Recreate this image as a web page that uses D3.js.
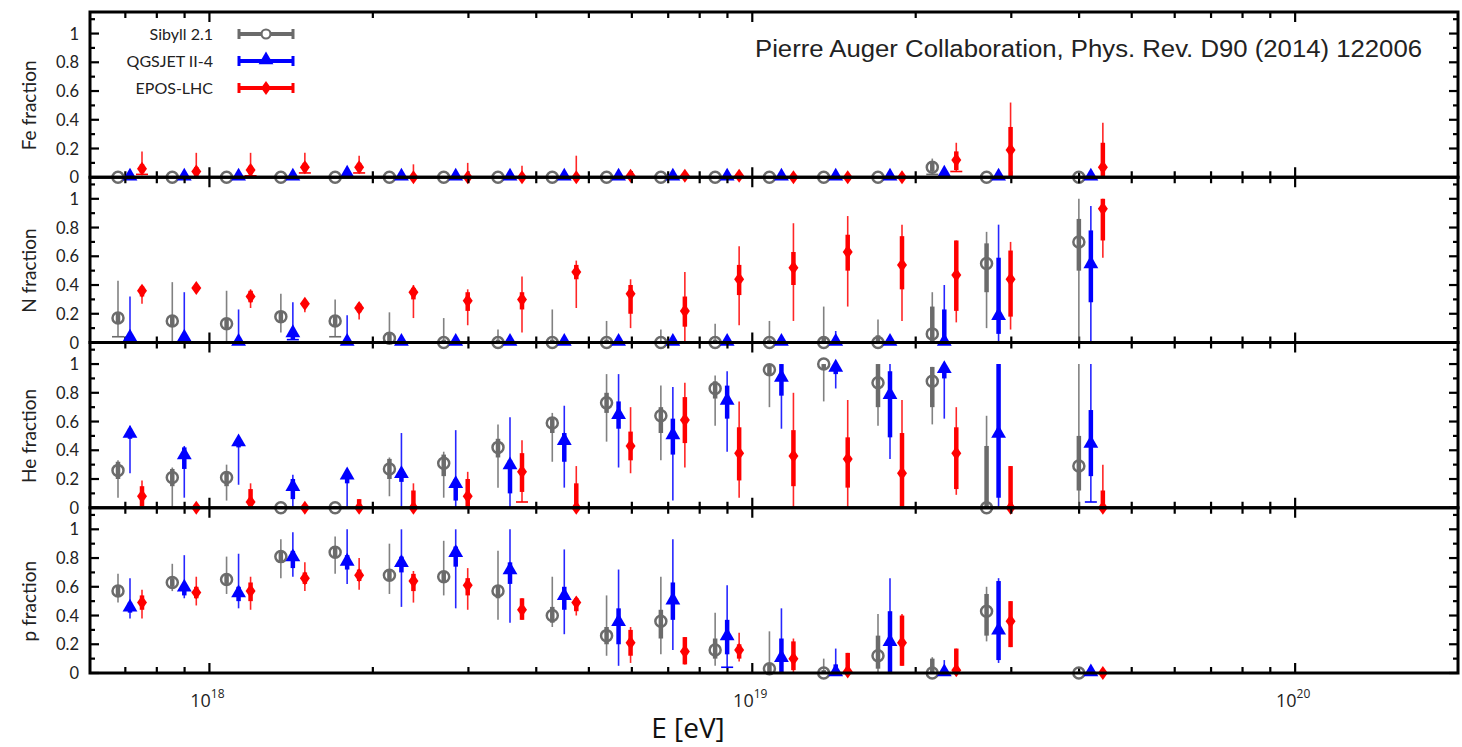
<!DOCTYPE html>
<html>
<head>
<meta charset="utf-8">
<script src="https://cdn.jsdelivr.net/npm/d3@7/dist/d3.min.js"></script>
<style>
  body { margin: 0; background: #fff; }
  svg { display: block; }
</style>
</head>
<body>
<div id="chart"></div>
<script>
// energy bins, log10(E/eV)
const logE = [17.85, 17.95, 18.05, 18.15, 18.25, 18.35, 18.45, 18.55, 18.65,
              18.75, 18.85, 18.95, 19.05, 19.15, 19.25, 19.35, 19.45, 19.62];

const elements = ["Fe", "N", "He", "p"];
const models = ["Sibyll 2.1", "QGSJET II-4", "EPOS-LHC"];
const xTickLabels = [18, 19, 20];

// each point: [value, statLo, statHi, sysLo, sysHi]
const sibyllFe = [[0,0,0,0,0],[0,0,0,0,0],[0,0,0,0,0],[0,0,0,0,0],[0,0,0,0,0],[0,0,0,0,0],
  [0,0,0,0,0],[0,0,0,0,0],[0,0,0,0,0],[0,0,0,0,0],[0,0,0,0,0],[0,0,0,0,0],[0,0,0,0,0],
  [0,0,0,0,0],[0,0,0,0,0],[0.07,0.04,0.1,0.02,0.13],[0,0,0,0,0],[0,0,0,0,0]];
const qgsjetFe = [[0,0,0,0,0],[0,0,0,0,0],[0,0,0,0,0],[0,0,0,0,0],[0.02,0,0.03,0,0.03],[0,0,0,0,0],
  [0,0,0,0,0],[0,0,0,0,0],[0,0,0,0,0],[0,0,0,0,0],[0,0,0,0,0],[0,0,0,0,0],[0,0,0,0,0],
  [0,0,0,0,0],[0,0,0,0,0],[0.02,0,0.04,0,0.05],[0,0,0,0,0],[0,0,0,0,0]];
const eposFe = [[0.06,0.03,0.09,0.02,0.18],[0.04,0.01,0.07,0,0.17],[0.05,0.02,0.08,0.01,0.17],
  [0.07,0.04,0.1,0.03,0.17],[0.07,0.04,0.1,0.03,0.15],[0,0,0.02,0,0.09],[0,0,0.02,0,0.1],
  [0,0,0.02,0,0.08],[0,0,0.02,0,0.15],[0.01,0,0.03,0,0.03],[0.01,0,0.03,0,0.03],
  [0.01,0,0.02,0,0.02],[0,0,0.01,0,0.01],[0,0,0.01,0,0.01],[0,0,0.01,0,0.01],
  [0.12,0.05,0.18,0.04,0.24],[0.19,0,0.35,0,0.52],[0.07,0,0.24,0,0.38]];

const sibyllN = [[0.17,0.13,0.21,0.04,0.43],[0.15,0.11,0.19,0,0.42],[0.13,0.09,0.17,0,0.36],
  [0.18,0.14,0.22,0.07,0.34],[0.15,0.11,0.19,0.04,0.3],[0.03,0,0.06,0,0.21],[0,0,0.02,0,0.17],
  [0,0,0.02,0,0.09],[0,0,0.02,0,0.23],[0,0,0.02,0,0.15],[0,0,0.01,0,0.09],[0,0,0.02,0,0.13],
  [0,0,0.02,0,0.15],[0,0,0.04,0,0.25],[0,0,0.05,0,0.16],[0.06,0,0.25,0,0.35],
  [0.55,0.35,0.69,0.1,0.77],[0.7,0.5,0.86,0,1]];
const qgsjetN = [[0.03,0,0.05,0,0.32],[0.03,0,0.05,0,0.35],[0,0,0.01,0,0.23],[0.06,0.02,0.09,0.02,0.28],
  [0,0,0.02,0,0.19],[0,0,0.02,0,0.03],[0,0,0.01,0,0.01],[0,0,0.01,0,0.01],[0,0,0.01,0,0.01],
  [0,0,0.01,0,0.01],[0,0,0.01,0,0.01],[0,0,0.01,0,0.01],[0,0,0.01,0,0.01],[0,0,0.03,0,0.08],
  [0,0,0.01,0,0.01],[0,0,0.23,0,0.4],[0.18,0.06,0.59,0,0.82],[0.54,0.28,0.78,0,0.95]];
const eposN = [[0.36,0.32,0.39,0.27,0.4],[0.38,0.36,0.4,0.36,0.4],[0.32,0.28,0.36,0.24,0.37],
  [0.27,0.25,0.29,0.21,0.29],[0.24,0.21,0.27,0.16,0.28],[0.35,0.3,0.38,0.17,0.4],
  [0.29,0.22,0.35,0.12,0.37],[0.3,0.23,0.35,0.07,0.46],[0.49,0.44,0.54,0.24,0.57],
  [0.34,0.2,0.4,0.1,0.44],[0.22,0.11,0.32,0,0.49],[0.44,0.33,0.54,0.12,0.67],
  [0.52,0.4,0.63,0.15,0.83],[0.63,0.5,0.75,0.25,0.88],[0.54,0.37,0.74,0.15,0.82],
  [0.47,0.22,0.71,0.14,0.71],[0.44,0.18,0.64,0.09,0.7],[0.93,0.71,1,0.59,1]];

const sibyllHe = [[0.26,0.2,0.32,0.07,0.33],[0.21,0.15,0.27,0,0.28],[0.21,0.15,0.25,0.05,0.3],
  [0,0,0.01,0,0.01],[0,0,0.01,0,0.01],[0.27,0.2,0.34,0.08,0.35],[0.31,0.22,0.37,0.07,0.39],
  [0.42,0.35,0.48,0.14,0.58],[0.59,0.52,0.62,0.32,0.66],[0.73,0.66,0.8,0.46,0.93],
  [0.64,0.52,0.7,0.33,0.85],[0.83,0.76,0.88,0.57,0.92],[0.96,0.92,1,0.7,1],[1,0.96,1,0.74,1],
  [0.87,0.7,1,0.57,1],[0.88,0.7,0.98,0.58,0.98],[0,0,0.43,0,0.64],[0.29,0.12,0.5,0,1]];
const qgsjetHe = [[0.51,0.48,0.55,0.24,0.57],[0.36,0.27,0.42,0.07,0.43],[0.45,0.42,0.48,0.16,0.48],
  [0.14,0.06,0.2,0,0.23],[0.22,0.17,0.25,0,0.27],[0.23,0.18,0.27,0,0.52],[0.16,0.05,0.2,0,0.54],
  [0.29,0.1,0.33,0,0.63],[0.46,0.32,0.52,0.14,0.71],[0.64,0.55,0.74,0.28,0.93],
  [0.5,0.37,0.62,0.05,0.84],[0.74,0.62,0.85,0.39,0.95],[0.9,0.78,1,0.55,1],[0.97,0.93,1,0.83,1],
  [0.78,0.49,0.95,0.34,1],[0.96,0.9,0.98,0.62,0.98],[0.51,0.07,1,0,1],[0.44,0.22,0.68,0.04,1]];
const eposHe = [[0.08,0.01,0.15,0,0.19],[0,0,0.01,0,0.01],[0.04,0,0.13,0,0.17],[0,0,0.01,0,0.01],
  [0,0,0.06,0,0.06],[0,0,0.12,0,0.17],[0.08,0,0.2,0,0.25],[0.25,0.11,0.38,0.04,0.47],
  [0,0,0.17,0,0.29],[0.43,0.33,0.53,0.24,0.7],[0.61,0.45,0.77,0.28,0.87],[0.38,0.19,0.56,0.07,0.74],
  [0.36,0.15,0.54,0,0.8],[0.34,0.14,0.49,0,0.75],[0.24,0,0.52,0,0.75],[0.38,0.13,0.56,0.09,0.7],
  [0,0,0.29,0,0.29],[0,0,0.12,0,0.3]];

const sibyllP = [[0.57,0.53,0.61,0.49,0.69],[0.63,0.6,0.66,0.57,0.76],[0.65,0.62,0.69,0.55,0.81],
  [0.81,0.77,0.85,0.66,0.93],[0.84,0.8,0.87,0.69,0.95],[0.68,0.64,0.72,0.55,0.9],
  [0.67,0.63,0.71,0.54,0.92],[0.57,0.52,0.61,0.37,0.85],[0.4,0.35,0.46,0.32,0.67],
  [0.26,0.2,0.32,0.12,0.54],[0.36,0.24,0.44,0.13,0.67],[0.16,0.1,0.24,0.05,0.42],
  [0.03,0,0.07,0,0.29],[0,0,0.02,0,0.1],[0.12,0.03,0.26,0,0.41],[0,0,0.1,0,0.11],
  [0.43,0.26,0.55,0.22,0.6],[0,0,0.01,0,0.01]];
const qgsjetP = [[0.45,0.42,0.49,0.38,0.66],[0.59,0.54,0.62,0.52,0.82],[0.55,0.5,0.6,0.45,0.83],
  [0.8,0.73,0.85,0.67,0.98],[0.77,0.72,0.82,0.62,1],[0.76,0.7,0.81,0.46,1],[0.83,0.74,0.88,0.45,1],
  [0.71,0.62,0.77,0.35,1],[0.53,0.44,0.6,0.27,0.86],[0.35,0.2,0.45,0.05,0.72],
  [0.5,0.37,0.63,0.16,0.93],[0.25,0.13,0.37,0.04,0.61],[0.1,0,0.24,0,0.45],[0,0,0.06,0,0.17],
  [0.21,0,0.43,0,0.66],[0,0,0.03,0,0.09],[0.29,0.09,0.64,0.07,0.66],[0,0,0.01,0,0.01]];
const eposP = [[0.49,0.44,0.54,0.38,0.58],[0.56,0.52,0.6,0.47,0.67],[0.57,0.5,0.63,0.44,0.67],
  [0.66,0.62,0.7,0.57,0.77],[0.68,0.64,0.72,0.58,0.8],[0.64,0.57,0.69,0.49,0.71],
  [0.61,0.54,0.66,0.44,0.73],[0.44,0.37,0.52,0.37,0.52],[0.49,0.43,0.52,0.4,0.53],
  [0.21,0.12,0.3,0.07,0.32],[0.15,0.06,0.25,0.06,0.25],[0.16,0.1,0.2,0.08,0.28],
  [0.1,0.02,0.22,0,0.24],[0.01,0,0.14,0,0.14],[0.21,0.05,0.4,0.05,0.41],[0.02,0,0.17,0,0.17],
  [0.36,0.18,0.5,0.18,0.5],[0,0,0.01,0,0.01]];

const panelData = {
  Fe: [sibyllFe, qgsjetFe, eposFe],
  N:  [sibyllN, qgsjetN, eposN],
  He: [sibyllHe, qgsjetHe, eposHe],
  p:  [sibyllP, qgsjetP, eposP]
};

const colors = ["#6b6b6b", "#0000ff", "#ff0000"];
const offsets = [-10, 2, 14];   // px shift so the three models don't overlap

const W = 1462, H = 747;
const plotL = 90, plotR = 1458, plotT = 12, plotB = 673;
const panelH = (plotB - plotT) / elements.length;

const svg = d3.select("#chart").append("svg")
    .attr("width", W).attr("height", H)
    .attr("viewBox", `0 0 ${W} ${H}`);

const x = d3.scaleLog()
    .domain([Math.pow(10, 17.78), Math.pow(10, 20.3)])
    .range([plotL, plotR]);

const font = "Lato, 'Open Sans', sans-serif";

// minor + major x tick positions
const xMinor = [];
for (let dec = 17; dec <= 20; dec++) {
  for (let m = 1; m <= 9; m++) {
    const v = m * Math.pow(10, dec);
    if (v >= x.domain()[0] && v <= x.domain()[1]) xMinor.push({ v, major: m === 1 });
  }
}

const symTri = d3.symbol().type(d3.symbolTriangle).size(95);
const diamond = "M0,-7L5,0L0,7L-5,0Z";

elements.forEach((el, pi) => {
  const y0 = plotT + pi * panelH, y1 = y0 + panelH;
  const y = d3.scaleLinear().domain([0, 1.15]).range([y1, y0]);
  const g = svg.append("g");

  // y ticks, both sides, inward
  const yt = d3.range(0, 12).map(i => i / 10);
  yt.forEach((v, i) => {
    const len = i % 2 === 0 ? 9 : 5;
    g.append("line").attr("x1", plotL).attr("x2", plotL + len)
      .attr("y1", y(v)).attr("y2", y(v)).attr("stroke", "#000").attr("stroke-width", 2.2);
    g.append("line").attr("x1", plotR).attr("x2", plotR - len)
      .attr("y1", y(v)).attr("y2", y(v)).attr("stroke", "#000").attr("stroke-width", 2.2);
  });
  g.selectAll(".ylab").data([0, 0.2, 0.4, 0.6, 0.8, 1]).join("text")
    .attr("x", 79).attr("y", d => y(d) + 6)
    .attr("text-anchor", "end")
    .attr("font-family", font).attr("font-size", 16.5).attr("fill", "#222")
    .text(d => d === 0 || d === 1 ? d : d.toFixed(1));

  g.append("text")
    .attr("transform", `translate(36,${y(0.5)}) rotate(-90)`)
    .attr("text-anchor", "middle")
    .attr("font-family", font).attr("font-size", 19).attr("fill", "#222")
    .text(el + " fraction");

  // x ticks at top and bottom of each panel, inward
  xMinor.forEach(t => {
    const len = t.major ? 10 : 6;
    const xx = x(t.v);
    g.append("line").attr("x1", xx).attr("x2", xx).attr("y1", y0).attr("y2", y0 + len)
      .attr("stroke", "#000").attr("stroke-width", 2.2);
    g.append("line").attr("x1", xx).attr("x2", xx).attr("y1", y1).attr("y2", y1 - len)
      .attr("stroke", "#000").attr("stroke-width", 2.2);
  });

  // data
  panelData[el].forEach((series, mi) => {
    const col = colors[mi];
    const mg = g.append("g");
    series.forEach((d, bi) => {
      const [v, tLo, tHi, sLo, sHi] = d;
      const px = x(Math.pow(10, logE[bi])) + offsets[mi];
      mg.append("line").attr("x1", px).attr("x2", px)
        .attr("y1", y(sLo)).attr("y2", y(sHi))
        .attr("stroke", col).attr("stroke-width", 1.6).attr("stroke-opacity", 0.85);
      if (sLo <= 0.04 && v - sLo > 0.02) {
        mg.append("line").attr("x1", px - 6).attr("x2", px + 6)
          .attr("y1", y(sLo)).attr("y2", y(sLo))
          .attr("stroke", col).attr("stroke-width", 1.6);
      }
      mg.append("line").attr("x1", px).attr("x2", px)
        .attr("y1", y(tLo)).attr("y2", y(tHi))
        .attr("stroke", col).attr("stroke-width", 4.5);
      const cy = y(v);
      if (mi === 0) {
        mg.append("circle").attr("cx", px).attr("cy", cy).attr("r", 5.5)
          .attr("fill", "none").attr("stroke", col).attr("stroke-width", 2.5);
      } else if (mi === 1) {
        mg.append("path").attr("d", symTri).attr("transform", `translate(${px},${cy - 1})`)
          .attr("fill", col);
      } else {
        mg.append("path").attr("d", diamond).attr("transform", `translate(${px},${cy})`)
          .attr("fill", col);
      }
    });
  });

  // panel frame
  g.append("rect").attr("x", plotL).attr("y", y0).attr("width", plotR - plotL).attr("height", panelH)
    .attr("fill", "none").attr("stroke", "#000").attr("stroke-width", 3);
});

// x tick labels
const xl = svg.append("g");
xTickLabels.forEach(p => {
  const t = xl.append("text").attr("x", x(Math.pow(10, p)) - 2).attr("y", 707)
    .attr("text-anchor", "middle")
    .attr("font-family", "'Liberation Sans Narrow', 'Open Sans', sans-serif")
    .attr("font-size", 18).attr("fill", "#222");
  t.append("tspan").text("10");
  t.append("tspan").attr("dy", -9).attr("font-size", 12).text(p);
});

svg.append("text").attr("x", 688).attr("y", 738).attr("text-anchor", "middle")
  .attr("font-family", "'Liberation Sans Narrow', 'Open Sans', sans-serif")
  .attr("font-size", 28).attr("fill", "#111")
  .text("E [eV]");

// citation
svg.append("text").attr("x", 755).attr("y", 57)
  .attr("font-family", "'Liberation Sans', Arial, sans-serif")
  .attr("font-size", 23).attr("fill", "#222")
  .attr("textLength", 667).attr("lengthAdjust", "spacingAndGlyphs")
  .text("Pierre Auger Collaboration, Phys. Rev. D90 (2014) 122006");

// legend
const leg = svg.append("g");
models.forEach((m, i) => {
  const ly = 34 + i * 27;
  const col = colors[i];
  leg.append("text").attr("x", 213).attr("y", ly + 5.5)
    .attr("text-anchor", "end")
    .attr("font-family", font).attr("font-size", 16).attr("fill", "#222")
    .text(m);
  leg.append("line").attr("x1", 239).attr("x2", 293).attr("y1", ly).attr("y2", ly)
    .attr("stroke", col).attr("stroke-width", 4);
  [239, 293].forEach(cx => leg.append("line").attr("x1", cx).attr("x2", cx)
    .attr("y1", ly - 5).attr("y2", ly + 5).attr("stroke", col).attr("stroke-width", 3));
  if (i === 0) {
    leg.append("circle").attr("cx", 266).attr("cy", ly).attr("r", 4.5)
      .attr("fill", "#fff").attr("stroke", col).attr("stroke-width", 2.2);
  } else if (i === 1) {
    leg.append("path").attr("d", symTri).attr("transform", `translate(266,${ly - 1})`).attr("fill", col);
  } else {
    leg.append("path").attr("d", diamond).attr("transform", `translate(266,${ly})`).attr("fill", col);
  }
});
</script>
</body>
</html>
